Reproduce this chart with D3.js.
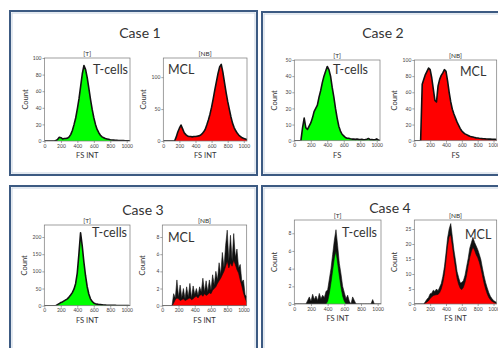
<!DOCTYPE html>
<html>
<head>
<meta charset="utf-8">
<script src="https://cdn.jsdelivr.net/npm/d3@7"></script>
<style>
  body { margin: 0; background: #fff; }
  svg { display: block; font-family: Lato, "Open Sans", sans-serif; }
</style>
</head>
<body>
<div id="chart"></div>
<script>
// histogram bins: one value every 20 FS units, 0 .. 1040
const binStep = 20;
const xTicks = [0, 200, 400, 600, 800, 1000];

const caseTitles = ["Case 1", "Case 2", "Case 3", "Case 4"];

// Case 1
const case1T = [0,0,0,0,0,0,0,0.5,2,4.5,4,2.5,3,3.2,3.5,5,8,13,20,28,39,51,66,81,91,86,76,63,50,38,28,20,14,10,7,5,4,3,2.5,2,1.5,1.2,1,0.8,0.7,0.6,0.5,0.5,0.4,0.3,0.3,0.2,0];
const case1MCL = [0,0,0,0,0,0,0,0,6,14,20,25,19,13,10,8,7,7,6.5,7,7,7.5,8,9,11,14,18,25,33,42,53,66,80,93,106,116,120,108,92,76,62,50,38,28,21,16,12,9,7,5,4,3,2];
const case1TTicks = [0, 20, 40, 60, 80, 100];
const case1MCLTicks = [0, 50, 100];

// Case 2
const case2T = [0,0,0,0,0,8,14,8,7,9,11,14,18,20,22,27,31,36,40,43,46,44,40,33,27,20,14,9,6,4,3,2,1.5,1.5,1.2,1,1,0.8,1,0.8,0.7,0.8,0.6,0.7,0.9,1.4,0.6,0.7,0.5,0.6,1.1,0.4,0];
const case2MCL = [0,0,0,0,0,70,76,82,86,90,88,78,64,50,48,68,76,81,84,88,86,74,60,48,39,33,28,23,19,15,12,10,8.5,7.5,6.5,5.5,5,4.5,4,3.5,3.3,3,2.8,2.6,2.5,2.3,2.2,2,2,1.8,1.7,1.6,1.5];
const case2TTicks = [0, 10, 20, 30, 40, 50];
const case2MCLTicks = [0, 20, 40, 60, 80, 100];

// Case 3
const case3T = [0,0,0,0,0,0,0,0,3,6,9,11,14,17,20,25,31,38,48,64,95,150,212,175,128,88,56,34,20,13,8,6,4.5,3.5,3,2.5,2,1.8,1.5,1.3,1.2,1,1,0.9,0.8,0.8,0.7,0.6,0.5,0.5,0.4,0.3,0];
const case3MCL = [0,0,0,0,0,0,0,0.3,0.7,0.9,0.8,0.6,0.7,0.8,0.6,0.7,0.8,0.9,0.7,0.8,1.0,1.1,0.9,1.2,1.3,1.1,1.4,1.2,1.3,1.5,1.4,1.8,2.0,2.2,2.6,2.9,3.2,3.6,4.0,4.6,5.2,4.4,5.0,4.6,5.3,4.8,4.2,3.8,3.0,2.3,1.5,0.9,0.4];
const case3MCLPeaks = [0,0,0,0,0,0,0,1.4,0.9,3.0,1.0,2.4,0.9,2.0,0.8,2.2,1.0,2.6,0.9,2.3,1.3,2.0,1.2,2.2,1.6,3.2,1.6,2.9,1.6,3.0,1.8,3.6,2.4,4.0,3.0,5.0,3.6,6.2,4.4,7.0,8.8,5.2,8.2,5.2,8.4,5.6,6.6,4.4,4.8,2.8,3.0,1.3,1.0];
const case3TTicks = [0, 50, 100, 150, 200];
const case3MCLTicks = [0, 2, 4, 6, 8];

// Case 4
const case4T = [0,0,0,0,0,0,0,0,0,0,0,0,0,0,0,0,0,0,0,0,0.3,1.2,2.4,3.8,5.2,6.0,4.6,3.2,1.9,0.9,0.3,0,0,0,0,0,0,0,0,0,0,0,0,0,0,0,0,0,0,0,0,0,0];
const case4TPeaks = [0,0,0,0,0,0,0,0,0.4,0.8,0.3,1.1,0.5,0.9,0.4,1.2,0.6,1.0,0.7,1.4,1.6,2.8,4.0,5.6,7.2,8.4,6.6,4.6,3.4,2.0,1.3,0.6,1.0,0.3,0,0.8,0.4,0,0,0,0,0,0,0,0,0,0,0.5,0,0,0,0,0];
const case4MCL = [0,0,0,0,0,0,0,0.3,0.7,1.1,1.8,2.4,2.8,3.0,3.1,3.2,3.8,5.0,7.0,10.0,14.5,19.5,22.5,23.0,19.5,15.5,12.0,8.5,6.5,5.2,4.8,5.6,7.2,9.6,12.8,15.5,17.5,19.0,18.0,16.5,15.5,14.0,12.0,9.5,7.0,5.0,3.4,2.2,1.4,0.9,0.6,0.3,0.2];
const case4MCLPeaks = [0,0,0,0,0,0,0,0.8,1.6,2.2,3.4,3.6,4.6,4.2,5.0,4.4,5.6,6.8,9.2,12.4,17.0,22.0,25.0,26.8,22.4,18.0,14.6,10.8,8.8,7.0,7.2,7.8,9.6,12.4,15.2,18.6,20.4,22.2,20.6,19.4,18.2,16.6,14.8,12.0,9.4,7.2,5.4,3.8,2.6,1.8,1.2,0.8,0.5];
const case4TTicks = [0, 2, 4, 6, 8];
const case4MCLTicks = [0, 5, 10, 15, 20, 25];

const W = 498, H = 348;
const GREEN = "#00ff00", RED = "#ff0000";

// panel boxes [x, y, w, h] and title centres
const panels = [
  { box: [10, 11, 247, 164], title: [140, 38] },
  { box: [262, 12, 250, 163], title: [383, 38] },
  { box: [10, 186, 247, 200], title: [143, 215] },
  { box: [262, 186, 250, 200], title: [390, 213] }
];

// each histogram: frame [x0, y0, x1, y1]
const charts = [
  { counts: case1T, color: GREEN, frame: [44.5, 58, 130, 141], yMax: 100, yTicks: case1TTicks, gate: "[T]", xLabel: "FS INT", tag: "T-cells", tagPos: [93, 74] },
  { counts: case1MCL, color: RED, frame: [163.3, 58, 247, 141], yMax: 130, yTicks: case1MCLTicks, gate: "[NB]", xLabel: "FS INT", tag: "MCL", tagPos: [168, 74] },
  { counts: case2T, color: GREEN, frame: [294.3, 60, 380, 140.7], yMax: 50, yTicks: case2TTicks, gate: "[T]", xLabel: "FS", tag: "T-cells", tagPos: [333, 74] },
  { counts: case2MCL, color: RED, frame: [414.3, 60, 496.7, 140.7], yMax: 100, yTicks: case2MCLTicks, gate: "[NB]", xLabel: "FS", tag: "MCL", tagPos: [460, 76] },
  { counts: case3T, color: GREEN, frame: [44.3, 225, 130, 305.7], yMax: 235, yTicks: case3TTicks, gate: "[T]", xLabel: "FS INT", tag: "T-cells", tagPos: [92, 237] },
  { counts: case3MCL, peaks: case3MCLPeaks, color: RED, frame: [162.3, 225, 246.7, 305.7], yMax: 9.4, yTicks: case3MCLTicks, gate: "[NB]", xLabel: "FS INT", tag: "MCL", tagPos: [168, 242] },
  { counts: case4T, peaks: case4TPeaks, color: GREEN, frame: [294.3, 220, 381, 304], yMax: 9.5, yTicks: case4TTicks, gate: "[T]", xLabel: "FS INT", tag: "T-cells", tagPos: [342, 237] },
  { counts: case4MCL, peaks: case4MCLPeaks, color: RED, frame: [414.3, 220, 496.7, 304], yMax: 28, yTicks: case4MCLTicks, gate: "[NB]", xLabel: "FS INT", tag: "MCL", tagPos: [465, 239] }
];

const svg = d3.select("#chart")
  .append("svg")
  .attr("width", W)
  .attr("height", H);

svg.append("rect").attr("width", W).attr("height", H).attr("fill", "#fff");

// panel borders (dark blue with a light inner line)
panels.forEach((p, i) => {
  const [x, y, w, h] = p.box;
  svg.append("rect")
    .attr("x", x).attr("y", y).attr("width", w).attr("height", h)
    .attr("fill", "none")
    .attr("stroke", "#3c5a82")
    .attr("stroke-width", 2);
  svg.append("rect")
    .attr("x", x + 2).attr("y", y + 2).attr("width", w - 4).attr("height", h - 4)
    .attr("fill", "none")
    .attr("stroke", "#b9c8da")
    .attr("stroke-width", 0.8);
  svg.append("text")
    .attr("x", p.title[0])
    .attr("y", p.title[1])
    .attr("text-anchor", "middle")
    .attr("font-size", "14px")
    .attr("fill", "#333")
    .text(caseTitles[i]);
});

charts.forEach((c, i) => {
  const [x0, y0, x1, y1] = c.frame;
  const x = d3.scaleLinear().domain([0, 1040]).range([x0, x1]);
  const y = d3.scaleLinear().domain([0, c.yMax]).range([y1, y0]);

  const g = svg.append("g");
  const clipId = "clip" + i;
  g.append("clipPath").attr("id", clipId)
    .append("rect")
    .attr("x", x0).attr("y", y0)
    .attr("width", x1 - x0).attr("height", y1 - y0);

  const plot = g.append("g").attr("clip-path", `url(#${clipId})`);

  const area = d3.area()
    .x((d, j) => x(j * binStep))
    .y0(y(0))
    .y1(d => y(d));
  const line = d3.line()
    .x((d, j) => x(j * binStep))
    .y(d => y(d));

  // noisy channels: black spikes behind the coloured body
  if (c.peaks) {
    plot.append("path")
      .datum(c.peaks)
      .attr("d", area)
      .attr("fill", "#111");
    plot.append("path")
      .datum(c.peaks)
      .attr("d", line)
      .attr("fill", "none")
      .attr("stroke", "#111")
      .attr("stroke-width", 0.6);
  }

  plot.append("path")
    .datum(c.counts)
    .attr("d", area)
    .attr("fill", c.color);

  plot.append("path")
    .datum(c.counts)
    .attr("d", line)
    .attr("fill", "none")
    .attr("stroke", "#111")
    .attr("stroke-width", c.peaks ? 0.6 : 1.6)
    .attr("stroke-linejoin", "round");

  // frame
  g.append("rect")
    .attr("x", x0).attr("y", y0)
    .attr("width", x1 - x0).attr("height", y1 - y0)
    .attr("fill", "none")
    .attr("stroke", "#777")
    .attr("stroke-width", 0.7);

  // axes
  const yAxis = g.append("g")
    .attr("transform", `translate(${x0},0)`)
    .call(d3.axisLeft(y).tickValues(c.yTicks).tickSize(2).tickPadding(1).tickFormat(d3.format("d")));
  const xAxis = g.append("g")
    .attr("transform", `translate(0,${y1})`)
    .call(d3.axisBottom(x).tickValues(xTicks).tickSize(2).tickPadding(1).tickFormat(d3.format("d")));
  [yAxis, xAxis].forEach(a => {
    a.select(".domain").remove();
    a.selectAll("line").attr("stroke", "#666").attr("stroke-width", 0.6);
    a.selectAll("text")
      .attr("font-size", "5px")
      .attr("fill", "#444")
      .attr("font-family", "Lato, 'Open Sans', sans-serif");
  });

  // labels
  g.append("text")
    .attr("x", (x0 + x1) / 2)
    .attr("y", y0 - 2)
    .attr("text-anchor", "middle")
    .attr("font-size", "6.5px")
    .attr("fill", "#333")
    .text(c.gate);

  g.append("text")
    .attr("x", (x0 + x1) / 2)
    .attr("y", y1 + 17)
    .attr("text-anchor", "middle")
    .attr("font-size", "7.5px")
    .attr("fill", "#333")
    .text(c.xLabel);

  g.append("text")
    .attr("transform", `translate(${x0 - 17},${(y0 + y1) / 2}) rotate(-90)`)
    .attr("text-anchor", "middle")
    .attr("font-size", "7.5px")
    .attr("fill", "#333")
    .text("Count");

  g.append("text")
    .attr("x", c.tagPos[0])
    .attr("y", c.tagPos[1])
    .attr("font-size", "12.5px")
    .attr("fill", "#333")
    .text(c.tag);
});
</script>
</body>
</html>
